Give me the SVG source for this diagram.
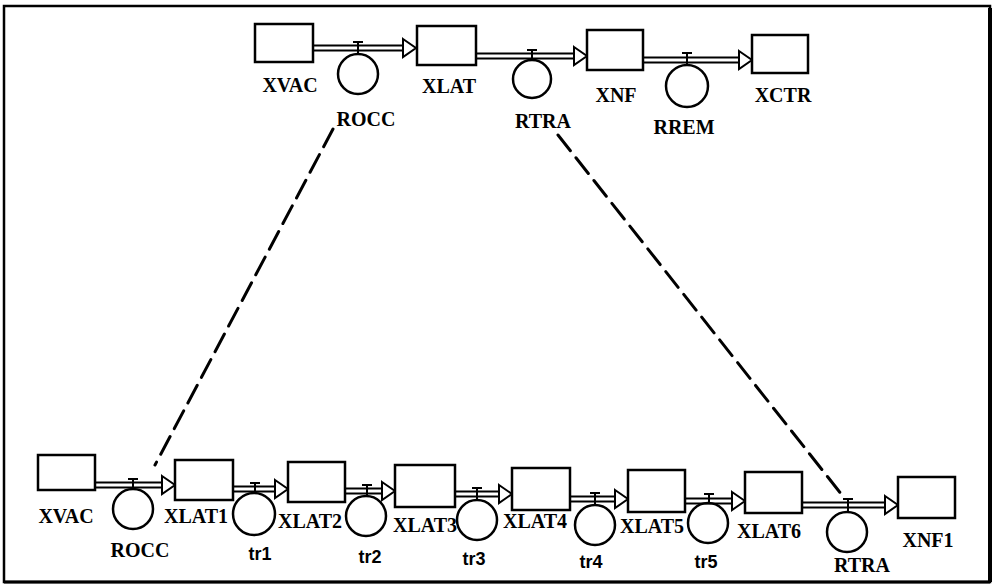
<svg xmlns="http://www.w3.org/2000/svg" width="999" height="585" viewBox="0 0 999 585">
<style>
.box{fill:#fff;stroke:#000;stroke-width:2.5}
.valve{fill:none;stroke:#000;stroke-width:2.5}
.tee{fill:none;stroke:#000;stroke-width:2}
.lbl{font-family:"Liberation Serif",serif;font-weight:bold;font-size:20px;text-anchor:middle;fill:#000}
.sml{font-family:"Liberation Sans",sans-serif;font-weight:bold;font-size:18px;text-anchor:middle;fill:#000}
.pipeO{stroke:#000;stroke-width:7;fill:none}
.pipeI{stroke:#fff;stroke-width:3;fill:none}
.head{fill:#fff;stroke:#000;stroke-width:2;stroke-linejoin:miter}
.dash{stroke:#000;stroke-width:3;fill:none;stroke-dasharray:20 9;stroke-linecap:round}
</style>
<rect width="999" height="585" fill="#fff"/>
<rect x="4" y="6" width="986" height="576" fill="none" stroke="#000" stroke-width="2.5"/>
<line x1="990" y1="8" x2="990" y2="582" stroke="#000" stroke-width="4"/>
<line x1="4" y1="582" x2="990" y2="582" stroke="#000" stroke-width="3"/>

<g id="connectors">
  <!-- top flows -->
  <path class="pipeO" d="M313 48H404"/><path class="pipeI" d="M313 48H405"/>
  <polygon class="head" points="403,39 416,48 403,57"/>
  <path class="pipeO" d="M476 56H575"/><path class="pipeI" d="M476 56H576"/>
  <polygon class="head" points="574,47 587,56 574,65"/>
  <path class="pipeO" d="M643 60H740"/><path class="pipeI" d="M643 60H741"/>
  <polygon class="head" points="739,51 752,60 739,69"/>
  <!-- bottom flows -->
  <path class="pipeO" d="M95 485H163"/><path class="pipeI" d="M95 485H164"/>
  <polygon class="head" points="162,476 175,485 162,494"/>
  <path class="pipeO" d="M233 489H276"/><path class="pipeI" d="M233 489H277"/>
  <polygon class="head" points="275,480 288,489 275,498"/>
  <path class="pipeO" d="M345 491H383"/><path class="pipeI" d="M345 491H384"/>
  <polygon class="head" points="382,482 395,491 382,500"/>
  <path class="pipeO" d="M455 494H500"/><path class="pipeI" d="M455 494H501"/>
  <polygon class="head" points="499,485 512,494 499,503"/>
  <path class="pipeO" d="M570 499H616"/><path class="pipeI" d="M570 499H617"/>
  <polygon class="head" points="615,490 628,499 615,508"/>
  <path class="pipeO" d="M685 501H733"/><path class="pipeI" d="M685 501H734"/>
  <polygon class="head" points="732,492 745,501 732,510"/>
  <path class="pipeO" d="M802 505H886"/><path class="pipeI" d="M802 505H887"/>
  <polygon class="head" points="885,496 898,505 885,514"/>
  <!-- dashed links -->
  <line class="dash" x1="333" y1="129" x2="155" y2="465"/>
  <line class="dash" x1="558" y1="135" x2="842" y2="495"/>
</g>

<!-- top row stocks -->
<g id="XVAC_top"><rect class="box" x="255" y="24" width="58" height="38"/><text class="lbl" x="290" y="92">XVAC</text></g>
<g id="XLAT_top"><rect class="box" x="417" y="26" width="59" height="39"/><text class="lbl" x="449" y="93">XLAT</text></g>
<g id="XNF_top"><rect class="box" x="587" y="30" width="56" height="40"/><text class="lbl" x="616" y="102">XNF</text></g>
<g id="XCTR_top"><rect class="box" x="752" y="35" width="56" height="38"/><text class="lbl" x="783" y="102">XCTR</text></g>

<!-- top row rates -->
<g id="ROCC_top"><path class="tee" d="M353 42H363M358 42V54"/><circle class="valve" cx="358" cy="74" r="20"/><text class="lbl" x="366" y="126">ROCC</text></g>
<g id="RTRA_top"><path class="tee" d="M527 50H537M532 50V60"/><circle class="valve" cx="532" cy="79" r="19"/><text class="lbl" x="543" y="128">RTRA</text></g>
<g id="RREM_top"><path class="tee" d="M682 53H692M687 53V65"/><circle class="valve" cx="687" cy="86" r="21"/><text class="lbl" x="684" y="134">RREM</text></g>

<!-- bottom row stocks -->
<g id="XVAC_bot"><rect class="box" x="38" y="455" width="57" height="35"/><text class="lbl" x="66" y="523">XVAC</text></g>
<g id="XLAT1"><rect class="box" x="175" y="460" width="58" height="40"/><text class="lbl" x="196" y="523">XLAT1</text></g>
<g id="XLAT2"><rect class="box" x="288" y="462" width="57" height="40"/><text class="lbl" x="310" y="528">XLAT2</text></g>
<g id="XLAT3"><rect class="box" x="395" y="465" width="60" height="42"/><text class="lbl" x="425" y="532">XLAT3</text></g>
<g id="XLAT4"><rect class="box" x="512" y="468" width="58" height="42"/><text class="lbl" x="535" y="528">XLAT4</text></g>
<g id="XLAT5"><rect class="box" x="628" y="470" width="57" height="42"/><text class="lbl" x="652" y="533">XLAT5</text></g>
<g id="XLAT6"><rect class="box" x="745" y="472" width="57" height="41"/><text class="lbl" x="769" y="538">XLAT6</text></g>
<g id="XNF1"><rect class="box" x="898" y="477" width="57" height="41"/><text class="lbl" x="928" y="547">XNF1</text></g>

<!-- bottom row rates -->
<g id="ROCC_bot"><path class="tee" d="M128 479H138M133 479V489"/><circle class="valve" cx="133" cy="509" r="20"/><text class="lbl" x="140" y="557">ROCC</text></g>
<g id="tr1"><path class="tee" d="M250 483H260M255 483V493"/><circle class="valve" cx="254" cy="514" r="21"/><text class="sml" x="260" y="560">tr1</text></g>
<g id="tr2"><path class="tee" d="M362 485H372M367 485V496"/><circle class="valve" cx="366" cy="516" r="20"/><text class="sml" x="370" y="563">tr2</text></g>
<g id="tr3"><path class="tee" d="M472 488H482M477 488V500"/><circle class="valve" cx="477" cy="520" r="20"/><text class="sml" x="474" y="565">tr3</text></g>
<g id="tr4"><path class="tee" d="M590 493H600M595 493V505"/><circle class="valve" cx="595" cy="525" r="20"/><text class="sml" x="591" y="568">tr4</text></g>
<g id="tr5"><path class="tee" d="M704 494H714M709 494V503"/><circle class="valve" cx="708" cy="523" r="20"/><text class="sml" x="706" y="568">tr5</text></g>
<g id="RTRA_bot"><path class="tee" d="M843 499H853M848 499V512"/><circle class="valve" cx="847" cy="532" r="20"/><text class="lbl" x="862" y="572">RTRA</text></g>
</svg>
